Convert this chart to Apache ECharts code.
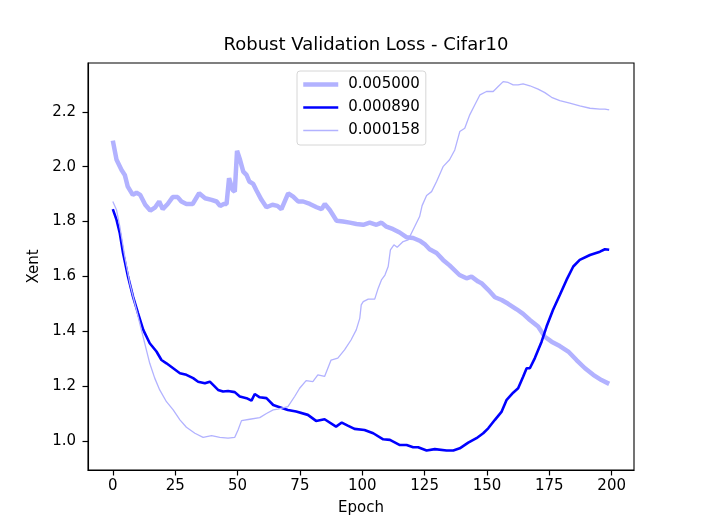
<!DOCTYPE html>
<html>
<head>
<meta charset="utf-8">
<script src="https://cdn.jsdelivr.net/npm/echarts@6/dist/echarts.min.js"></script>
<style>
  html, body { margin: 0; padding: 0; background: #fff; }
  #main { width: 704px; height: 528px; }
</style>
</head>
<body>
<div id="main"></div>
<script>
// tick labels
var xTicks = [0, 25, 50, 75, 100, 125, 150, 175, 200];
var yTicks = [1.0, 1.2, 1.4, 1.6, 1.8, 2.0, 2.2];
var seriesNames = ['0.005000', '0.000890', '0.000158'];

// lr 0.005000
var epochsA = [0, 1.5, 3.5, 4.8, 6, 8, 9.5, 11, 13, 15, 17, 18.6, 20, 22, 24, 26, 27.5, 29.5, 32, 34.6,
  37, 39.6, 41.6, 43, 44.5, 45.6, 46.6, 48, 48.9, 49.8, 51, 52.3, 53.6, 54.7, 56.3, 57.6, 59.6, 61.6, 64, 66,
  67.6, 70.3, 72.3, 74.3, 76.3, 79, 81.7, 83.7, 85, 87, 89.7, 92.3, 95, 97.7, 100.4, 103, 105.7, 107.7, 109.7, 112.4,
  115, 117.7, 120.4, 123, 125, 127, 129.8, 132.4, 135, 139, 141.8, 143.8, 146.5, 147.8, 150.5, 153.2, 155.9, 158.5, 161.9, 164.5,
  167.2, 170.5, 173.2, 175.9, 179.2, 182.6, 185.9, 189.3, 192.6, 195.9, 199];
var lossA = [2.095, 2.025, 1.988, 1.97, 1.927, 1.897, 1.905, 1.897, 1.861, 1.84, 1.852, 1.873, 1.845, 1.864, 1.889, 1.889, 1.873, 1.864, 1.864, 1.903,
  1.885, 1.879, 1.873, 1.857, 1.864, 1.864, 1.958, 1.915, 1.909, 2.058, 2.025, 1.982, 1.97, 1.946, 1.937, 1.913, 1.879, 1.852, 1.861, 1.857,
  1.845, 1.903, 1.891, 1.873, 1.873, 1.864, 1.852, 1.845, 1.864, 1.842, 1.803, 1.8, 1.796, 1.791, 1.788, 1.796, 1.788, 1.796, 1.781, 1.772,
  1.76, 1.743, 1.74, 1.73, 1.718, 1.699, 1.685, 1.66, 1.64, 1.605, 1.593, 1.599, 1.581, 1.575, 1.551, 1.524, 1.514, 1.5, 1.48, 1.463,
  1.441, 1.417, 1.38, 1.362, 1.346, 1.326, 1.295, 1.265, 1.241, 1.222, 1.208];

// lr 0.000890
var epochsB = [0, 1.5, 2.8, 4.1, 6.1, 8.1, 10.1, 12.2, 14.8, 17.5, 19.5, 21.5, 24.2, 26.9, 29.5, 32.2, 34.2, 36.9, 38.9, 42.2,
  44.2, 46.2, 48.9, 50.9, 53.6, 55.6, 56.9, 58.9, 61.6, 64.3, 66.3, 70.2, 73.5, 78.2, 81.5, 84.9, 89.5, 91.8, 94.2, 96.9,
  100.9, 104.4, 108.4, 111.1, 115.1, 117.8, 120.4, 122.4, 125.8, 129.1, 133.8, 136.5, 139.1, 142.5, 145.8, 148.5, 150.5, 153.2, 155.9, 157.9,
  160.5, 162.5, 164.5, 165.9, 167.2, 169.2, 171.9, 173.9, 176.5, 179.2, 181.9, 184.6, 187.2, 191.3, 195.3, 197.3, 199];
var lossB = [1.845, 1.806, 1.757, 1.685, 1.599, 1.526, 1.466, 1.405, 1.356, 1.326, 1.295, 1.283, 1.265, 1.247, 1.241, 1.229, 1.216, 1.21, 1.216, 1.186,
  1.18, 1.182, 1.178, 1.162, 1.156, 1.147, 1.171, 1.159, 1.156, 1.131, 1.125, 1.113, 1.107, 1.095, 1.073, 1.079, 1.052, 1.067, 1.056, 1.044,
  1.04, 1.028, 1.006, 1.004, 0.985, 0.985, 0.977, 0.977, 0.965, 0.97, 0.965, 0.965, 0.973, 0.994, 1.01, 1.028, 1.046, 1.077, 1.107, 1.15,
  1.176, 1.192, 1.234, 1.265, 1.265, 1.302, 1.362, 1.417, 1.478, 1.532, 1.587, 1.636, 1.66, 1.678, 1.69, 1.699, 1.697];

// lr 0.000158
var epochsC = [0, 1.5, 2.8, 4.8, 6.8, 8.8, 10.8, 12.8, 14.8, 16.8, 18.8, 21.5, 24.2, 26.9, 29.5, 32.9, 36.2, 39.6, 42.9, 46.2,
  48.9, 50.2, 51.6, 54.9, 58.9, 61.6, 64.3, 66.2, 70.2, 72.9, 74.9, 77.5, 80.2, 82.2, 84.9, 87.5, 90.2, 92.9, 95.5, 97.6,
  99, 99.6, 100.4, 102.4, 105, 106.4, 107.7, 109.1, 110.4, 111.3, 112.7, 114, 116.4, 118.4, 120.4, 123, 124, 125.8, 127.8, 129.8,
  132.4, 135, 137.1, 139.1, 141.1, 143.1, 145.1, 147.2, 149.8, 152.5, 154.5, 156.5, 158.5, 160.5, 162.5, 164.5, 167.2, 170.5, 173.2, 175.9,
  179.2, 183.2, 187.2, 191.3, 195.3, 197.3, 199];
var lossC = [1.873, 1.842, 1.782, 1.672, 1.575, 1.502, 1.429, 1.356, 1.283, 1.229, 1.186, 1.143, 1.113, 1.077, 1.05, 1.028, 1.013, 1.019, 1.013, 1.01,
  1.013, 1.04, 1.074, 1.079, 1.085, 1.1, 1.113, 1.116, 1.125, 1.162, 1.192, 1.22, 1.216, 1.241, 1.235, 1.295, 1.302, 1.332, 1.368, 1.405,
  1.447, 1.496, 1.508, 1.517, 1.517, 1.557, 1.587, 1.605, 1.636, 1.697, 1.715, 1.706, 1.727, 1.733, 1.77, 1.818, 1.858, 1.895, 1.909, 1.946,
  2.0, 2.025, 2.061, 2.128, 2.14, 2.189, 2.225, 2.262, 2.274, 2.274, 2.292, 2.31, 2.307, 2.298, 2.298, 2.302, 2.295, 2.283, 2.27, 2.253,
  2.241, 2.232, 2.222, 2.213, 2.21, 2.21, 2.207];

function zip(xs, ys) {
  var out = [];
  for (var i = 0; i < xs.length; i++) out.push([xs[i], ys[i]]);
  return out;
}

var font = 'DejaVu Sans';
var light = '#b2b2ff';
var widths = [4.5, 2.6, 1.3];          // line widths A, B, C
var colors = [light, '#0000ff', light];

var chart = echarts.init(document.getElementById('main'));
chart.setOption({
  animation: false,
  textStyle: { fontFamily: font },
  title: {
    text: 'Robust Validation Loss - Cifar10',
    left: 361,
    textAlign: 'center',
    top: 31,
    textStyle: { fontFamily: font, fontSize: 18, fontWeight: 'normal', color: '#000' }
  },
  legend: {
    orient: 'vertical',
    left: 297,
    top: 71,
    padding: [6, 6, 7, 4],
    itemWidth: 35,
    itemHeight: 14,
    itemGap: 8,
    borderColor: '#d6d6d6',
    borderWidth: 1,
    borderRadius: 3,
    backgroundColor: 'rgba(255,255,255,0.8)',
    itemStyle: { opacity: 0 },
    textStyle: { fontFamily: font, fontSize: 15, color: '#000', padding: [0, 0, 0, 5] },
    data: seriesNames.map(function (n, i) {
      return { name: n, lineStyle: { width: widths[i], color: colors[i] } };
    })
  },
  grid: {
    left: 88, right: 70, top: 63, bottom: 58,
    show: true, borderColor: '#000', borderWidth: 1.1
  },
  xAxis: {
    type: 'value',
    min: -9.95,
    max: 208.95,
    name: 'Epoch',
    nameLocation: 'middle',
    nameGap: 31,
    nameTextStyle: { fontFamily: font, fontSize: 15, color: '#000' },
    axisLine: { show: true, onZero: false, lineStyle: { color: '#000', width: 1.1 } },
    splitLine: { show: false },
    axisTick: { show: true, length: 5.5, lineStyle: { color: '#000', width: 1.2 }, customValues: xTicks },
    axisLabel: { fontFamily: font, fontSize: 15, color: '#000', margin: 9, customValues: xTicks }
  },
  yAxis: {
    type: 'value',
    min: 0.894,
    max: 2.378,
    name: 'Xent',
    nameLocation: 'middle',
    nameGap: 43,
    nameTextStyle: { fontFamily: font, fontSize: 15, color: '#000' },
    axisLine: { show: true, onZero: false, lineStyle: { color: '#000', width: 1.1 } },
    splitLine: { show: false },
    axisTick: { show: true, length: 5.5, lineStyle: { color: '#000', width: 1.2 }, customValues: yTicks },
    axisLabel: {
      fontFamily: font, fontSize: 15, color: '#000', margin: 12, customValues: yTicks,
      formatter: function (v) { return v.toFixed(1); }
    }
  },
  series: [
    {
      name: seriesNames[0], type: 'line', showSymbol: false, symbol: 'none',
      lineStyle: { color: colors[0], width: widths[0] }, itemStyle: { color: colors[0] },
      data: zip(epochsA, lossA), z: 2
    },
    {
      name: seriesNames[1], type: 'line', showSymbol: false, symbol: 'none',
      lineStyle: { color: colors[1], width: widths[1] }, itemStyle: { color: colors[1] },
      data: zip(epochsB, lossB), z: 3
    },
    {
      name: seriesNames[2], type: 'line', showSymbol: false, symbol: 'none',
      lineStyle: { color: colors[2], width: widths[2] }, itemStyle: { color: colors[2] },
      data: zip(epochsC, lossC), z: 4
    }
  ]
});
</script>
</body>
</html>
